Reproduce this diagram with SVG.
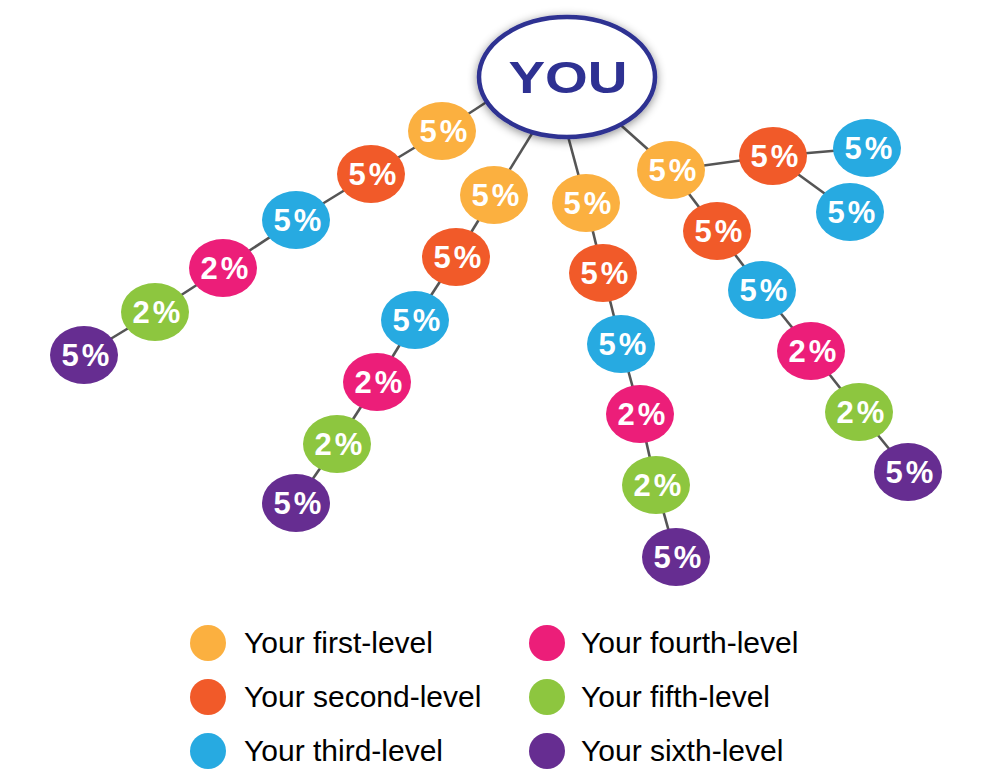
<svg xmlns="http://www.w3.org/2000/svg" width="998" height="779" viewBox="0 0 998 779">
<defs>
<style>
.l1{fill:#fbb040}.l2{fill:#f15a29}.l3{fill:#27aae1}.l4{fill:#ec1e79}.l5{fill:#8dc63f}.l6{fill:#662d91}
.pct{font-family:"Liberation Sans",Arial,sans-serif;font-weight:bold;font-size:31px;fill:#fff;text-anchor:middle;letter-spacing:3px}
.leg{font-family:"Liberation Sans",Arial,sans-serif;font-size:30px;fill:#000}
#connectors line{stroke:#555;stroke-width:2.6}
</style>
<filter id="sh" x="-30%" y="-30%" width="160%" height="160%">
<feDropShadow dx="0" dy="2" stdDeviation="5" flood-color="#000" flood-opacity="0.45"/>
</filter>
</defs>
<rect width="998" height="779" fill="#fff"/>
<g id="connectors">
<line x1="505" y1="90" x2="442" y2="131"/>
<line x1="442" y1="131" x2="371" y2="174"/>
<line x1="371" y1="174" x2="296" y2="220"/>
<line x1="296" y1="220" x2="223" y2="268"/>
<line x1="223" y1="268" x2="155" y2="312"/>
<line x1="155" y1="312" x2="84" y2="355"/>
<line x1="567" y1="77" x2="494" y2="195"/>
<line x1="494" y1="195" x2="456" y2="257"/>
<line x1="456" y1="257" x2="415" y2="320"/>
<line x1="415" y1="320" x2="377" y2="382"/>
<line x1="377" y1="382" x2="337" y2="444"/>
<line x1="337" y1="444" x2="296" y2="503"/>
<line x1="565" y1="125" x2="586" y2="203"/>
<line x1="586" y1="203" x2="603" y2="273"/>
<line x1="603" y1="273" x2="621" y2="344"/>
<line x1="621" y1="344" x2="640" y2="414"/>
<line x1="640" y1="414" x2="656" y2="485"/>
<line x1="656" y1="485" x2="676" y2="557"/>
<line x1="567" y1="77" x2="671" y2="170"/>
<line x1="671" y1="170" x2="773" y2="156"/>
<line x1="773" y1="156" x2="867" y2="148"/>
<line x1="773" y1="156" x2="850" y2="212"/>
<line x1="671" y1="170" x2="717" y2="231"/>
<line x1="717" y1="231" x2="762" y2="290"/>
<line x1="762" y1="290" x2="811" y2="351"/>
<line x1="811" y1="351" x2="859" y2="412"/>
<line x1="859" y1="412" x2="908" y2="472"/>
</g>
<g id="you">
<ellipse cx="567" cy="77" rx="88" ry="60" fill="#fff" stroke="#2e3192" stroke-width="4.5" filter="url(#sh)"/>
<text x="568" y="93" font-family="Liberation Sans,Arial,sans-serif" font-weight="bold" font-size="44" fill="#2e3192" text-anchor="middle" textLength="119" lengthAdjust="spacingAndGlyphs">YOU</text>
</g>
<g id="b1n1"><ellipse class="l1" cx="442" cy="131" rx="34" ry="29"/><text class="pct" x="445" y="142">5%</text></g>
<g id="b1n2"><ellipse class="l2" cx="371" cy="174" rx="34" ry="29"/><text class="pct" x="374" y="185">5%</text></g>
<g id="b1n3"><ellipse class="l3" cx="296" cy="220" rx="34" ry="29"/><text class="pct" x="299" y="231">5%</text></g>
<g id="b1n4"><ellipse class="l4" cx="223" cy="268" rx="34" ry="29"/><text class="pct" x="226" y="279">2%</text></g>
<g id="b1n5"><ellipse class="l5" cx="155" cy="312" rx="34" ry="29"/><text class="pct" x="158" y="323">2%</text></g>
<g id="b1n6"><ellipse class="l6" cx="84" cy="355" rx="34" ry="29"/><text class="pct" x="87" y="366">5%</text></g>
<g id="b2n1"><ellipse class="l1" cx="494" cy="195" rx="34" ry="29"/><text class="pct" x="497" y="206">5%</text></g>
<g id="b2n2"><ellipse class="l2" cx="456" cy="257" rx="34" ry="29"/><text class="pct" x="459" y="268">5%</text></g>
<g id="b2n3"><ellipse class="l3" cx="415" cy="320" rx="34" ry="29"/><text class="pct" x="418" y="331">5%</text></g>
<g id="b2n4"><ellipse class="l4" cx="377" cy="382" rx="34" ry="29"/><text class="pct" x="380" y="393">2%</text></g>
<g id="b2n5"><ellipse class="l5" cx="337" cy="444" rx="34" ry="29"/><text class="pct" x="340" y="455">2%</text></g>
<g id="b2n6"><ellipse class="l6" cx="296" cy="503" rx="34" ry="29"/><text class="pct" x="299" y="514">5%</text></g>
<g id="b3n1"><ellipse class="l1" cx="586" cy="203" rx="34" ry="29"/><text class="pct" x="589" y="214">5%</text></g>
<g id="b3n2"><ellipse class="l2" cx="603" cy="273" rx="34" ry="29"/><text class="pct" x="606" y="284">5%</text></g>
<g id="b3n3"><ellipse class="l3" cx="621" cy="344" rx="34" ry="29"/><text class="pct" x="624" y="355">5%</text></g>
<g id="b3n4"><ellipse class="l4" cx="640" cy="414" rx="34" ry="29"/><text class="pct" x="643" y="425">2%</text></g>
<g id="b3n5"><ellipse class="l5" cx="656" cy="485" rx="34" ry="29"/><text class="pct" x="659" y="496">2%</text></g>
<g id="b3n6"><ellipse class="l6" cx="676" cy="557" rx="34" ry="29"/><text class="pct" x="679" y="568">5%</text></g>
<g id="b4n1"><ellipse class="l1" cx="671" cy="170" rx="34" ry="29"/><text class="pct" x="674" y="181">5%</text></g>
<g id="b4n2a"><ellipse class="l2" cx="773" cy="156" rx="34" ry="29"/><text class="pct" x="776" y="167">5%</text></g>
<g id="b4n3a"><ellipse class="l3" cx="867" cy="148" rx="34" ry="29"/><text class="pct" x="870" y="159">5%</text></g>
<g id="b4n3b"><ellipse class="l3" cx="850" cy="212" rx="34" ry="29"/><text class="pct" x="853" y="223">5%</text></g>
<g id="b4n2"><ellipse class="l2" cx="717" cy="231" rx="34" ry="29"/><text class="pct" x="720" y="242">5%</text></g>
<g id="b4n3"><ellipse class="l3" cx="762" cy="290" rx="34" ry="29"/><text class="pct" x="765" y="301">5%</text></g>
<g id="b4n4"><ellipse class="l4" cx="811" cy="351" rx="34" ry="29"/><text class="pct" x="814" y="362">2%</text></g>
<g id="b4n5"><ellipse class="l5" cx="859" cy="412" rx="34" ry="29"/><text class="pct" x="862" y="423">2%</text></g>
<g id="b4n6"><ellipse class="l6" cx="908" cy="472" rx="34" ry="29"/><text class="pct" x="911" y="483">5%</text></g>
<g id="legend">
<circle class="l1" cx="208" cy="643" r="18"/><text class="leg" x="244" y="653">Your first-level</text>
<circle class="l2" cx="208" cy="697" r="18"/><text class="leg" x="244" y="707">Your second-level</text>
<circle class="l3" cx="208" cy="751" r="18"/><text class="leg" x="244" y="761">Your third-level</text>
<circle class="l4" cx="547" cy="643" r="18"/><text class="leg" x="581" y="653">Your fourth-level</text>
<circle class="l5" cx="547" cy="697" r="18"/><text class="leg" x="581" y="707">Your fifth-level</text>
<circle class="l6" cx="547" cy="751" r="18"/><text class="leg" x="581" y="761">Your sixth-level</text>
</g>
</svg>
